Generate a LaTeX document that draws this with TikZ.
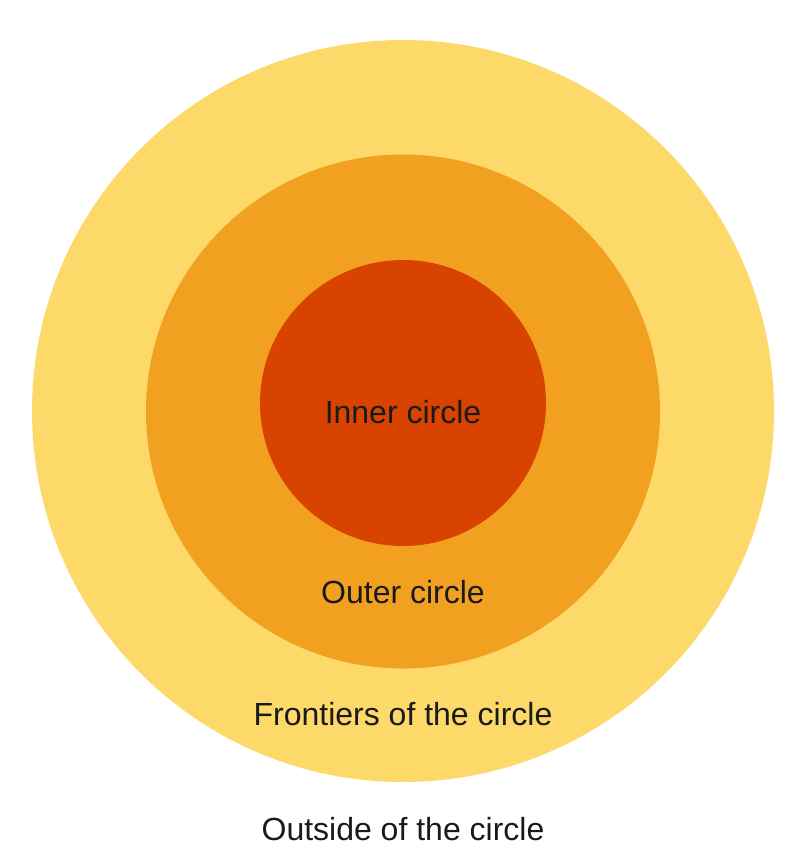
\documentclass[tikz,border=0pt]{standalone}
\usepackage{fontspec}
\setmainfont{Liberation Sans}
\definecolor{cyellow}{HTML}{FDD969}
\definecolor{corange}{HTML}{F2A01F}
\definecolor{cred}{HTML}{D84300}
\definecolor{ctext}{HTML}{1A1A1A}
\begin{document}
\begin{tikzpicture}[x=1pt,y=-1pt,
  lbl/.style={anchor=base,text=ctext,font=\fontsize{32}{38}\selectfont,inner sep=0pt}]
\useasboundingbox (0,0) rectangle (800,857);
\fill[cyellow] (403,411) circle[radius=371];
\fill[corange] (403,411.5) circle[radius=257];
\fill[cred] (403,403) circle[radius=143];
\node[lbl] (inner) at (403,423) {Inner circle};
\node[lbl] (outer) at (403,603) {Outer circle};
\node[lbl] (front) at (403,725) {Frontiers of the circle};
\node[lbl] (outside) at (403,840) {Outside of the circle};
\end{tikzpicture}
\end{document}
